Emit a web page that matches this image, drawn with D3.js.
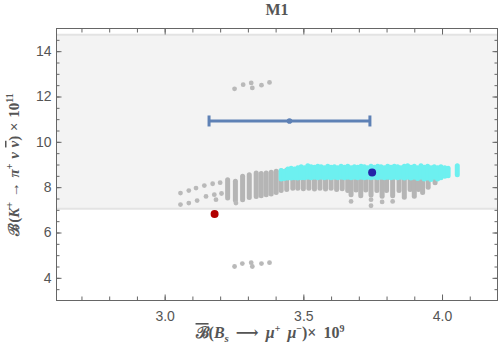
<!DOCTYPE html>
<html>
<head>
<meta charset="utf-8">
<script src="https://cdn.jsdelivr.net/npm/d3@7"></script>
<style>
body { margin: 0; background: #fff; }
</style>
</head>
<body>
<div id="chart"></div>
<script>
// tick labels
var xTicksMajor = [3.0, 3.5, 4.0];
var yTicksMajor = [4, 6, 8, 10, 12, 14];

// shaded allowed band for K+ -> pi+ nu nubar
var bandRange = [7.05, 14.72];

// experimental point with horizontal error bar
var expPoint = [3.45, 10.92];
var expErr = [3.16, 3.74];

var redPoint = [3.18, 6.82];
var bluePoint = [3.748, 8.65];

// isolated grey scan points
var grayPoints = [
    [3.057, 7.74], [3.057, 7.23], [3.087, 7.85], [3.087, 7.30],
    [3.113, 7.96], [3.117, 7.41], [3.143, 8.07], [3.149, 7.59],
    [3.173, 8.15], [3.179, 7.67], [3.185, 7.45], [3.200, 8.20],
    [3.205, 7.72], [3.257, 7.30],
    [3.672, 7.37], [3.744, 7.45], [3.744, 7.18], [3.784, 7.35], [3.822, 7.37],
    [3.252, 12.34], [3.283, 12.52], [3.312, 12.60], [3.316, 12.38], [3.349, 12.50], [3.378, 12.62],
    [3.252, 4.50], [3.280, 4.63], [3.312, 4.67], [3.316, 4.50], [3.349, 4.63], [3.378, 4.67]
];

// dense grey columns: [x, yLow, yHigh]
var grayStreaks = [
    [3.227, 7.52, 8.33], [3.255, 7.42, 8.26], [3.281, 7.45, 8.48], [3.305, 7.54, 8.55],
    [3.330, 7.59, 8.63], [3.348, 7.62, 8.60], [3.366, 7.67, 8.63], [3.384, 7.70, 8.66],
    [3.402, 7.76, 8.70], [3.420, 7.85, 8.72], [3.440, 7.90, 8.75], [3.462, 7.95, 8.77],
    [3.480, 7.95, 8.45], [3.500, 7.93, 8.45], [3.520, 7.95, 8.45], [3.540, 7.92, 8.45],
    [3.560, 7.95, 8.45], [3.580, 7.92, 8.45], [3.600, 7.95, 8.45], [3.620, 7.90, 8.45],
    [3.640, 7.93, 8.45], [3.660, 7.85, 8.45], [3.672, 7.67, 8.45], [3.690, 7.88, 8.45],
    [3.707, 7.62, 8.45], [3.725, 7.88, 8.45], [3.744, 7.65, 8.45], [3.765, 7.85, 8.45],
    [3.784, 7.60, 8.45], [3.800, 7.85, 8.45], [3.822, 7.62, 8.40], [3.845, 7.85, 8.40],
    [3.864, 7.55, 8.40], [3.885, 7.90, 8.35], [3.900, 7.60, 8.35], [3.915, 7.90, 8.30],
    [3.930, 7.76, 8.30], [3.950, 8.00, 8.30], [3.975, 8.20, 8.42]
];

// dense cyan columns: [x, yLow, yHigh]
var cyanStreaks = [
    [3.420, 8.36, 8.74], [3.432, 8.38, 8.70], [3.444, 8.40, 8.80], [3.456, 8.40, 8.84],
    [3.468, 8.42, 8.80], [3.480, 8.40, 8.86], [3.492, 8.42, 8.90], [3.504, 8.42, 8.86],
    [3.516, 8.44, 8.94], [3.528, 8.42, 8.90], [3.540, 8.44, 8.88], [3.552, 8.42, 8.92],
    [3.564, 8.44, 8.90], [3.576, 8.42, 8.86], [3.588, 8.44, 8.92], [3.600, 8.42, 8.88],
    [3.612, 8.44, 8.90], [3.624, 8.42, 8.86], [3.636, 8.44, 8.92], [3.648, 8.42, 8.88],
    [3.660, 8.44, 8.92], [3.672, 8.42, 8.86], [3.684, 8.44, 8.90], [3.696, 8.42, 8.88],
    [3.708, 8.44, 8.92], [3.720, 8.42, 8.90], [3.732, 8.44, 8.86], [3.744, 8.42, 8.92],
    [3.756, 8.44, 8.88], [3.768, 8.42, 8.92], [3.780, 8.44, 8.90], [3.792, 8.42, 8.86],
    [3.804, 8.44, 8.92], [3.816, 8.42, 8.88], [3.828, 8.44, 8.92], [3.840, 8.42, 8.90],
    [3.852, 8.44, 8.86], [3.864, 8.40, 8.92], [3.876, 8.44, 8.94], [3.888, 8.40, 8.88],
    [3.900, 8.44, 8.92], [3.912, 8.38, 8.86], [3.924, 8.44, 8.94], [3.936, 8.36, 8.88],
    [3.948, 8.40, 8.92], [3.960, 8.34, 8.86], [3.972, 8.44, 8.90], [3.984, 8.36, 8.86],
    [3.996, 8.42, 8.90], [4.010, 8.48, 8.86], [4.022, 8.50, 8.84], [4.055, 8.55, 8.95]
];

var w = 500, h = 361;
var pLeft = 56.5, pRight = 497.5, pTop = 28.5, pBottom = 300.5;
var frameColor = "#666";
var labelColor = "#555";

var x = d3.scaleLinear().domain([2.61, 4.2]).range([pLeft, pRight]);
var y = d3.scaleLinear().domain([3, 15]).range([pBottom, pTop]);

var svg = d3.select("#chart").append("svg")
    .attr("width", w)
    .attr("height", h);

// shaded band
svg.append("rect")
    .attr("x", pLeft)
    .attr("y", y(bandRange[1]))
    .attr("width", pRight - pLeft)
    .attr("height", y(bandRange[0]) - y(bandRange[1]))
    .attr("fill", "#f3f3f3");
svg.selectAll("line.band")
    .data(bandRange)
    .enter().append("line")
    .attr("class", "band")
    .attr("x1", pLeft).attr("x2", pRight)
    .attr("y1", function(d) { return y(d); })
    .attr("y2", function(d) { return y(d); })
    .attr("stroke", "#e3e3e3")
    .attr("stroke-width", 2);

var plot = svg.append("g");

plot.selectAll("line.gray")
    .data(grayStreaks)
    .enter().append("line")
    .attr("class", "gray")
    .attr("x1", function(d) { return x(d[0]); })
    .attr("x2", function(d) { return x(d[0]); })
    .attr("y1", function(d) { return y(d[1]); })
    .attr("y2", function(d) { return y(d[2]); })
    .attr("stroke", "#b5b5b5")
    .attr("stroke-width", 5)
    .attr("stroke-linecap", "round");

plot.selectAll("circle.gray")
    .data(grayPoints)
    .enter().append("circle")
    .attr("class", "gray")
    .attr("cx", function(d) { return x(d[0]); })
    .attr("cy", function(d) { return y(d[1]); })
    .attr("r", 2.4)
    .attr("fill", "#b9b9b9");

plot.selectAll("line.cyan")
    .data(cyanStreaks)
    .enter().append("line")
    .attr("class", "cyan")
    .attr("x1", function(d) { return x(d[0]); })
    .attr("x2", function(d) { return x(d[0]); })
    .attr("y1", function(d) { return y(d[1]); })
    .attr("y2", function(d) { return y(d[2]); })
    .attr("stroke", "#6df0f0")
    .attr("stroke-width", 5)
    .attr("stroke-linecap", "round");

// error bar
var errColor = "#5e81b5";
plot.append("line")
    .attr("x1", x(expErr[0])).attr("x2", x(expErr[1]))
    .attr("y1", y(expPoint[1])).attr("y2", y(expPoint[1]))
    .attr("stroke", errColor)
    .attr("stroke-width", 3);
plot.selectAll("line.cap")
    .data(expErr)
    .enter().append("line")
    .attr("class", "cap")
    .attr("x1", function(d) { return x(d); })
    .attr("x2", function(d) { return x(d); })
    .attr("y1", y(expPoint[1]) - 5.5)
    .attr("y2", y(expPoint[1]) + 5.5)
    .attr("stroke", errColor)
    .attr("stroke-width", 3);
plot.append("circle")
    .attr("cx", x(expPoint[0])).attr("cy", y(expPoint[1]))
    .attr("r", 2.8)
    .attr("fill", errColor);

plot.append("circle")
    .attr("cx", x(redPoint[0])).attr("cy", y(redPoint[1]))
    .attr("r", 4)
    .attr("fill", "#b10000");
plot.append("circle")
    .attr("cx", x(bluePoint[0])).attr("cy", y(bluePoint[1]))
    .attr("r", 4)
    .attr("fill", "#2424a8");

// axes (ticks point inward)
function styleAxis(g) {
    g.select(".domain").remove();
    g.selectAll("line").attr("stroke", frameColor);
    g.selectAll("text")
        .attr("fill", labelColor)
        .attr("font-family", "Liberation Sans, Arial, sans-serif")
        .attr("font-size", 14);
}

var xMinor = d3.range(2.7, 4.15, 0.1);
var yMinor = d3.range(3.5, 15, 0.5);

svg.append("g").attr("transform", "translate(0," + pBottom + ")")
    .call(d3.axisBottom(x).tickValues(xMinor).tickFormat("").tickSize(-4))
    .call(styleAxis);
svg.append("g").attr("transform", "translate(0," + pBottom + ")")
    .call(d3.axisBottom(x).tickValues(xTicksMajor).tickFormat(d3.format(".1f")).tickSize(-6).tickPadding(11))
    .call(styleAxis);
svg.append("g").attr("transform", "translate(0," + pTop + ")")
    .call(d3.axisTop(x).tickValues(xMinor).tickFormat("").tickSize(-4))
    .call(styleAxis);
svg.append("g").attr("transform", "translate(0," + pTop + ")")
    .call(d3.axisTop(x).tickValues(xTicksMajor).tickFormat("").tickSize(-6))
    .call(styleAxis);

svg.append("g").attr("transform", "translate(" + pLeft + ",0)")
    .call(d3.axisLeft(y).tickValues(yMinor).tickFormat("").tickSize(-3))
    .call(styleAxis);
svg.append("g").attr("transform", "translate(" + pLeft + ",0)")
    .call(d3.axisLeft(y).tickValues(yTicksMajor).tickSize(-5).tickPadding(5))
    .call(styleAxis);
svg.append("g").attr("transform", "translate(" + pRight + ",0)")
    .call(d3.axisRight(y).tickValues(yMinor).tickFormat("").tickSize(-3))
    .call(styleAxis);
svg.append("g").attr("transform", "translate(" + pRight + ",0)")
    .call(d3.axisRight(y).tickValues(yTicksMajor).tickFormat("").tickSize(-5))
    .call(styleAxis);

// frame
svg.append("rect")
    .attr("x", pLeft).attr("y", pTop)
    .attr("width", pRight - pLeft).attr("height", pBottom - pTop)
    .attr("fill", "none")
    .attr("stroke", frameColor)
    .attr("stroke-width", 1);

// title
svg.append("text")
    .attr("x", (pLeft + pRight) / 2)
    .attr("y", 15)
    .attr("text-anchor", "middle")
    .attr("font-family", "Liberation Serif, Times New Roman, serif")
    .attr("font-weight", "bold")
    .attr("font-size", 16)
    .attr("fill", labelColor)
    .text("M1");

// x label
var xl = svg.append("text")
    .attr("x", 270)
    .attr("y", 338)
    .attr("text-anchor", "middle")
    .attr("font-family", "Liberation Serif, DejaVu Serif, serif")
    .attr("font-weight", "bold")
    .attr("font-size", 16)
    .attr("word-spacing", 3)
    .attr("fill", labelColor);
xl.append("tspan").attr("text-decoration", "overline").text("\u212C");
xl.append("tspan").text("(");
xl.append("tspan").attr("font-style", "italic").text("B");
xl.append("tspan").attr("font-style", "italic").attr("font-size", 11).attr("dy", 4).text("s");
xl.append("tspan").attr("dy", -4).text(" \u27F6 ");
xl.append("tspan").attr("font-style", "italic").text("\u03BC");
xl.append("tspan").attr("font-size", 10).attr("dy", -6).text("+");
xl.append("tspan").attr("dy", 6).text("  ");
xl.append("tspan").attr("font-style", "italic").text("\u03BC");
xl.append("tspan").attr("font-size", 10).attr("dy", -6).text("\u2212");
xl.append("tspan").attr("dy", 6).text(")\u00D7 10");
xl.append("tspan").attr("font-size", 10).attr("dy", -6).text("9");

// y label
var yl = svg.append("text")
    .attr("transform", "translate(19," + ((pTop + pBottom) / 2) + ") rotate(-90)")
    .attr("text-anchor", "middle")
    .attr("font-family", "Liberation Serif, DejaVu Serif, serif")
    .attr("font-weight", "bold")
    .attr("font-size", 15)
    .attr("word-spacing", 1)
    .attr("fill", labelColor);
yl.append("tspan").text("\u212C(");
yl.append("tspan").attr("font-style", "italic").text("K");
yl.append("tspan").attr("font-size", 10).attr("dy", -6).text("+");
yl.append("tspan").attr("dy", 6).text(" \u2192 ");
yl.append("tspan").attr("font-style", "italic").text("\u03C0");
yl.append("tspan").attr("font-size", 10).attr("dy", -6).text("+");
yl.append("tspan").attr("dy", 6).text(" ");
yl.append("tspan").attr("font-style", "italic").text("\u03BD ");
yl.append("tspan").attr("font-style", "italic").attr("text-decoration", "overline").text("\u03BD");
yl.append("tspan").text(") \u00D7 10");
yl.append("tspan").attr("font-size", 10).attr("dy", -6).text("11");
</script>
</body>
</html>
